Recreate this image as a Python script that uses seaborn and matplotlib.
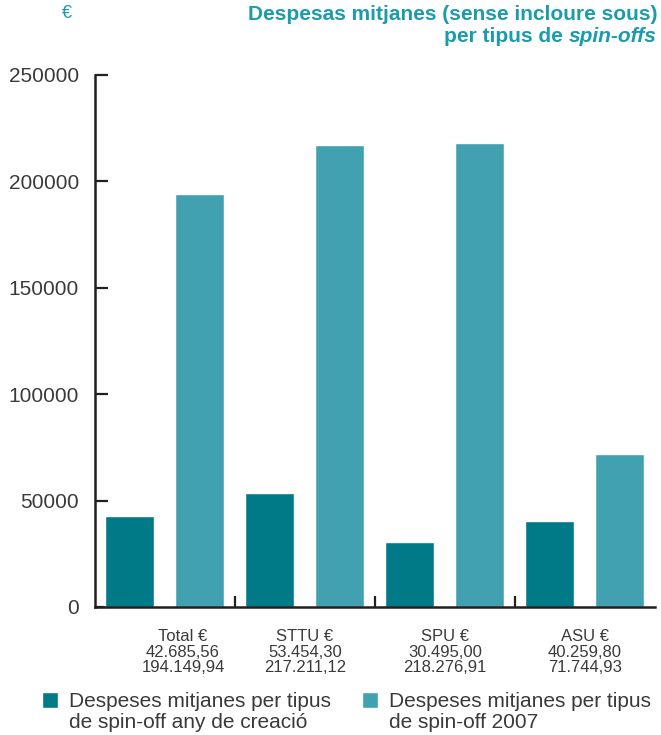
import matplotlib
matplotlib.use("Agg")
import matplotlib.pyplot as plt
from matplotlib.patches import Rectangle
from matplotlib.legend_handler import HandlerPatch
from matplotlib.ticker import FixedLocator
import matplotlib.transforms as mtransforms
import seaborn as sns
import pandas as pd

# Average spending per spin-off type (EUR)
categories = ["Total", "STTU", "SPU", "ASU"]
creation_year = [42685.56, 53454.30, 30495.00, 40259.80]
year_2007 = [194149.94, 217211.12, 218276.91, 71744.93]
tick_labels = [
    "Total €\n42.685,56\n194.149,94",
    "STTU €\n53.454,30\n217.211,12",
    "SPU €\n30.495,00\n218.276,91",
    "ASU €\n40.259,80\n71.744,93",
]
series_names = [
    "Despeses mitjanes per tipus\nde spin-off any de creació",
    "Despeses mitjanes per tipus\nde spin-off 2007",
]
y_ticks = [0, 50000, 100000, 150000, 200000, 250000]

DARK = "#007A87"
LIGHT = "#42A1B1"
TITLE_C = "#1A9CAC"
INK = "#231F20"
TXT = "#3A3A3A"

df = pd.DataFrame({
    "tipus": categories * 2,
    "valor": creation_year + year_2007,
    "serie": [series_names[0]] * 4 + [series_names[1]] * 4,
})

sns.set_style("white")
plt.rcParams["font.family"] = ["Liberation Sans", "DejaVu Sans"]

fig = plt.figure(figsize=(6.61, 7.35), dpi=100)
ax = fig.add_axes([95 / 661, 128 / 735, 560 / 661, 532 / 735])

sns.barplot(data=df, x="tipus", y="valor", hue="serie", order=categories,
            hue_order=series_names, palette=[DARK, LIGHT], width=1.0, gap=0.3,
            saturation=1, ax=ax, legend=False)

ax.set_xlim(-0.5, 3.5)
ax.set_ylim(0, 250000)
ax.set_xlabel("")
ax.set_ylabel("")

for side in ["top", "right"]:
    ax.spines[side].set_visible(False)
for side in ["left", "bottom"]:
    ax.spines[side].set_color(INK)
    ax.spines[side].set_linewidth(1.8)

ax.set_yticks(y_ticks)
ax.set_yticklabels([str(v) for v in y_ticks])
ax.tick_params(axis="y", direction="in", length=9, width=1.6, color=INK,
               labelsize=15, labelcolor=TXT, pad=11.5, left=True)

# group separators on the baseline
ax.xaxis.set_minor_locator(FixedLocator([0.5, 1.5, 2.5]))
ax.tick_params(axis="x", which="minor", direction="in", length=8, width=1.6,
               color=INK, bottom=True)
ax.set_xticks(range(len(categories)))
ax.set_xticklabels(tick_labels, linespacing=1.05)
ax.tick_params(axis="x", which="major", length=0, labelsize=12,
               labelcolor=TXT, pad=16)
first = ax.get_xticklabels()[0]
first.set_transform(first.get_transform() +
                    mtransforms.ScaledTranslation(18 / 100, 0, fig.dpi_scale_trans))

# unit marker and title
fig.text(67 / 661, 1 - 13 / 735, "€", color=TITLE_C, fontsize=13,
         ha="center", va="center")
fig.text(657 / 661, 1 - 14 / 735, "Despesas mitjanes (sense incloure sous)",
         color=TITLE_C, fontsize=15, fontweight="bold", ha="right", va="center")
t_it = fig.text(657 / 661, 1 - 37 / 735, "spin-offs", color=TITLE_C,
                fontsize=15, fontweight="bold", style="italic",
                ha="right", va="center")
ax.annotate("per tipus de ", xy=(0, 0.5), xycoords=t_it, color=TITLE_C,
            fontsize=15, fontweight="bold", ha="right", va="center",
            annotation_clip=False)


# legend squares sit next to the first line of each two-line label
def top_square(legend, orig_handle, xdescent, ydescent, width, height, fontsize):
    s = 11.5
    return Rectangle((-xdescent, -ydescent + 8.5), s, s)


handles = [Rectangle((0, 0), 1, 1, facecolor=c) for c in (DARK, LIGHT)]
leg = fig.legend(handles, series_names, loc="upper left",
                 bbox_to_anchor=(42 / 661, 1 - 692 / 735), ncol=2,
                 frameon=False, fontsize=15, handlelength=0.67,
                 handleheight=0.7, handletextpad=0.62, columnspacing=1.5,
                 borderpad=0, borderaxespad=0, labelcolor=TXT,
                 handler_map={Rectangle: HandlerPatch(patch_func=top_square)})
for t in leg.get_texts():
    t.set_linespacing(1.12)

fig.savefig("out.png", dpi=100)
